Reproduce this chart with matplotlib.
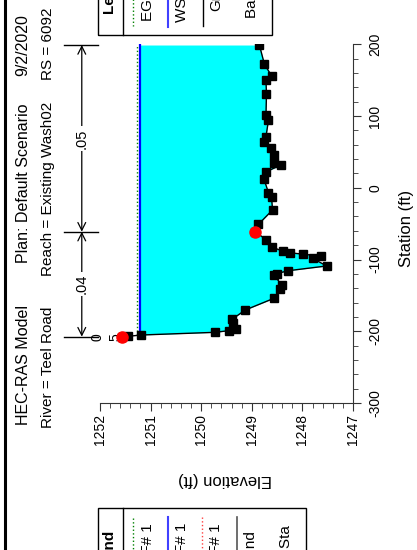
"""Cross section plot for Teel Road / Existing Wash02, RS 6092 (rotated page layout)."""

import matplotlib

matplotlib.use("Agg")
import matplotlib.pyplot as plt
import numpy as np
from matplotlib.lines import Line2D
from matplotlib.patches import Rectangle
from matplotlib.ticker import MultipleLocator

plt.rcParams["font.family"] = ["Liberation Sans", "DejaVu Sans"]

# ground survey (station ft, elevation ft)
STATION = [-207.5, -207.0, -205.2, -201.5, -199.2, -197.3, -189.0, -183.3, -170.4,
           -154.0, -141.5, -135.5, -121.6, -119.5, -115.6, -109.0, -98.3, -95.1,
           -92.7, -90.5, -88.5, -82.5, -72.8, -61.2, -51.0, -30.9, -13.3, -6.9,
           12.2, 22.4, 31.8, 34.1, 45.7, 55.9, 63.4, 71.2, 94.5, 101.4, 130.3,
           150.2, 156.2, 172.1, 199.0]
GROUND = [1251.57, 1251.44, 1251.18, 1249.73, 1249.46, 1249.32, 1249.37, 1249.39, 1249.13,
          1248.56, 1248.44, 1248.41, 1248.56, 1248.50, 1248.28, 1247.52, 1247.80, 1247.64,
          1247.98, 1248.25, 1248.38, 1248.61, 1248.71, 1248.93, 1248.87, 1248.59, 1248.61, 1248.67,
          1248.76, 1248.71, 1248.43, 1248.56, 1248.56, 1248.63, 1248.76, 1248.72, 1248.67, 1248.72, 1248.71,
          1248.72, 1248.61, 1248.75, 1248.85]

WS_ELEV = 1251.21
EG_ELEV = 1251.26
BANK_STA = [-207.5, -61.2]

# Manning's n breaks
N_STA = [-207.5, -61.2, 199.0]
N_VALUES = [".04", ".05"]

ELEV_TICKS = [1247, 1248, 1249, 1250, 1251, 1252]
STA_TICKS = [-300, -200, -100, 0, 100, 200]

TITLE_1 = ["HEC-RAS Model", "Plan: Default Scenario", "9/2/2020"]
TITLE_2 = ["River = Teel Road", "Reach = Existing Wash02", "RS = 6092"]

W, H = 417, 550


def fx(px):
    return px / W


def fy(py):
    return 1 - py / H


def vtext(fig, x, y, s, anchor="left", **kw):
    kw.setdefault("fontsize", 11)
    fig.text(fx(x), fy(y), s, rotation=90, rotation_mode="anchor",
             ha=anchor, va="center", **kw)


def vline(fig, x, y0, y1, **kw):
    fig.add_artist(Line2D([fx(x), fx(x)], [fy(y0), fy(y1)],
                          transform=fig.transFigure, **kw))


def main() -> None:
    sta = np.array(STATION)
    gnd = np.array(GROUND)

    fig = plt.figure(figsize=(W / 100, H / 100), dpi=100)
    ax = fig.add_axes([fx(100), fy(403), (353 - 100) / W, (403 - 44.3) / H])

    # wetted extent of the water surface
    wet = gnd < WS_ELEV
    i0 = int(np.argmax(wet))
    s_left = np.interp(WS_ELEV, [gnd[i0], gnd[i0 - 1]], [sta[i0], sta[i0 - 1]])
    s_right = sta[-1]

    ax.fill_betweenx(sta, gnd, WS_ELEV, where=wet, interpolate=True,
                     color="#00FFFF", lw=0, zorder=1)
    ax.plot([EG_ELEV, EG_ELEV], [s_left, s_right], color="#008000", ls=":", lw=1, zorder=2)
    ax.plot([WS_ELEV, WS_ELEV], [s_left, s_right], color="#0000FF", lw=1.6, zorder=3)
    ax.plot(gnd, sta, color="black", lw=1, marker="s", ms=5.2, zorder=4)
    ax.plot(np.interp(BANK_STA, sta, gnd), BANK_STA, "o", color="#FF0000", ms=8, zorder=5)

    ax.set_xlim(1252, 1247)
    ax.set_ylim(-300, 200)
    ax.set_xticks(ELEV_TICKS, [str(v) for v in ELEV_TICKS], rotation=90)
    ax.set_yticks(STA_TICKS, [str(v) for v in STA_TICKS], rotation=90, va="center")
    ax.xaxis.set_minor_locator(MultipleLocator(0.2))
    ax.yaxis.set_minor_locator(MultipleLocator(20))
    ax.yaxis.tick_right()
    ax.spines["left"].set_visible(False)
    ax.spines["top"].set_visible(False)
    ax.tick_params(which="major", length=6, labelsize=10, color="#333333")
    ax.tick_params(axis="x", which="major", pad=2)
    ax.tick_params(axis="y", which="major", pad=5)
    ax.tick_params(which="minor", length=3.5, color="#333333")
    for sp in ("bottom", "right"):
        ax.spines[sp].set_color("#333333")

    # Manning's n bar above the section
    e_bar, e_hi, e_lo = 1252.36, 1252.71, 1252.04
    for s in N_STA:
        ax.plot([e_hi, e_lo], [s, s], color="black", lw=1, clip_on=False)
    for k, n in enumerate(N_VALUES):
        ax.annotate("", xy=(e_bar, N_STA[k + 1]), xytext=(e_bar, N_STA[k]),
                    arrowprops=dict(arrowstyle="<->", color="black", lw=0.9,
                                    shrinkA=0, shrinkB=0, mutation_scale=14),
                    annotation_clip=False)
        ax.text(e_bar, (N_STA[k] + N_STA[k + 1]) / 2, n, rotation=90,
                ha="center", va="center", fontsize=10.5, clip_on=False,
                bbox=dict(fc="white", ec="none", pad=1.5))
    ax.text(1252.04, N_STA[0], "0", rotation=90, ha="center", va="center",
            fontsize=10, clip_on=False)
    ax.text(1251.70, N_STA[0], "5", rotation=90, ha="center", va="center",
            fontsize=10, clip_on=False)

    # axis titles
    fig.text(fx(406), fy(228), "Station (ft)", rotation=90, ha="center", va="center", fontsize=12)
    fig.text(fx(225), fy(480), "Elevation (ft)", rotation=180, ha="center", va="center", fontsize=12)

    # plot heading
    for s, y in zip(TITLE_1, [425, 263, 76]):
        vtext(fig, 23, y, s, fontsize=11.5)
    for s, y in zip(TITLE_2, [428, 276, 80]):
        vtext(fig, 48, y, s, fontsize=11)

    # page border
    fig.add_artist(Line2D([fx(5), fx(5)], [0, 1], transform=fig.transFigure,
                          color="black", lw=2.2))

    # legend box at top edge
    fig.add_artist(Rectangle((fx(98.3), fy(35)), fx(271.7) - fx(98.3), fy(-20) - fy(35),
                             transform=fig.transFigure, fill=False, ec="black", lw=1))
    vline(fig, 123.3, -20, 35, color="black", lw=1)
    vtext(fig, 109, 12.7, "Legend", fontweight="bold")
    vline(fig, 133.3, -5, 26, color="#008000", ls=":", lw=1)
    vtext(fig, 148, 20.7, "EG PF# 1")
    vline(fig, 167.7, -5, 26.7, color="#4040FF", lw=1.5)
    vtext(fig, 182, 21.7, "WS PF# 1")
    vline(fig, 202.7, -5, 26, color="black", lw=1)
    vtext(fig, 216.5, 11, "Ground")
    vtext(fig, 252.5, 18, "Bank Sta")

    # legend box at bottom edge
    fig.add_artist(Rectangle((fx(98.3), fy(570)), fx(306) - fx(98.3), fy(508.3) - fy(570),
                             transform=fig.transFigure, fill=False, ec="black", lw=1))
    vline(fig, 123.3, 508.3, 570, color="black", lw=1)
    vtext(fig, 109, 530, "Legend", anchor="right", fontweight="bold")
    vline(fig, 133.3, 518.3, 570, color="#008000", ls=":", lw=1)
    vtext(fig, 148, 523, "EG PF# 1", anchor="right")
    vline(fig, 167.7, 516.7, 570, color="#4040FF", lw=1.5)
    vtext(fig, 182, 523, "WS PF# 1", anchor="right")
    vline(fig, 202.3, 517, 570, color="#FF4040", ls=":", lw=1)
    vtext(fig, 216.5, 523, "Crit PF# 1", anchor="right")
    vline(fig, 236.7, 517, 570, color="#555555", lw=1.2)
    vtext(fig, 250.5, 530, "Ground", anchor="right")
    vtext(fig, 285.5, 525, "Bank Sta", anchor="right")

    fig.savefig("out.png", dpi=100, facecolor="white")
    plt.close(fig)


if __name__ == "__main__":
    main()
